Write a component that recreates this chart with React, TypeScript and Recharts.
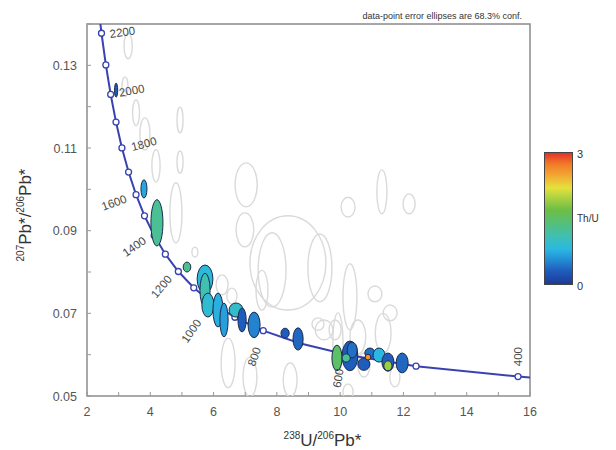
import React from 'react';
import { ComposedChart, Scatter, XAxis, YAxis, ReferenceArea } from 'recharts';

// concordia (Tera-Wasserburg), one point per 100 Ma
const AGE_MA = [350, 400, 500, 600, 700, 800, 900, 1000, 1100, 1200, 1300, 1400, 1500, 1600, 1700, 1800, 1900, 2000, 2100, 2200, 2300];
const U238_PB206 = [17.923, 15.621, 12.399, 10.252, 8.718, 7.569, 6.674, 5.959, 5.374, 4.887, 4.476, 4.123, 3.817, 3.55, 3.314, 3.104, 2.917, 2.749, 2.596, 2.458, 2.332];
const PB207_PB206 = [0.0535, 0.0547, 0.05722, 0.0599, 0.06276, 0.0658, 0.06905, 0.0725, 0.07618, 0.08012, 0.08432, 0.08881, 0.0936, 0.09871, 0.10418, 0.11002, 0.11627, 0.12295, 0.13011, 0.13776, 0.14602];
const LABELED_AGES = [400, 600, 800, 1000, 1200, 1400, 1600, 1800, 2000, 2200];

// accepted analyses (coloured by Th/U)
const GOOD_X = [2.92, 3.8, 4.21, 5.16, 5.73, 5.73, 5.82, 6.14, 6.33, 6.71, 6.9, 7.28, 8.26, 8.67, 10.31, 10.38, 9.9, 10.19, 10.75, 10.94, 11.23, 10.88, 11.51, 11.51, 11.96];
const GOOD_Y = [0.124, 0.1001, 0.0919, 0.0812, 0.0783, 0.0756, 0.072, 0.0708, 0.0684, 0.0708, 0.0684, 0.0672, 0.0652, 0.0638, 0.0597, 0.0611, 0.0592, 0.0592, 0.0577, 0.0604, 0.0599, 0.0594, 0.0582, 0.0573, 0.058];
const GOOD_SX = [0.05, 0.095, 0.19, 0.12, 0.25, 0.16, 0.19, 0.16, 0.13, 0.22, 0.13, 0.19, 0.13, 0.16, 0.25, 0.16, 0.16, 0.13, 0.19, 0.16, 0.19, 0.09, 0.19, 0.13, 0.19];
const GOOD_SY = [0.0017, 0.0022, 0.0056, 0.0012, 0.0034, 0.0041, 0.0029, 0.0041, 0.0041, 0.0017, 0.0029, 0.0031, 0.0012, 0.0027, 0.0036, 0.0019, 0.0031, 0.001, 0.0015, 0.0012, 0.0017, 0.0007, 0.0022, 0.0012, 0.0024];
const GOOD_THU = [0.3, 0.7, 1.25, 1.3, 0.85, 1.1, 0.9, 0.75, 0.65, 0.95, 0.3, 0.5, 0.3, 0.35, 0.3, 0.4, 1.5, 1.2, 0.3, 0.4, 0.8, 2.6, 0.3, 1.9, 0.35];

// rejected (discordant) analyses
const REJ_X = [3.3, 3.2, 3.55, 3.83, 4.18, 4.94, 4.94, 4.81, 5.41, 7.03, 6.99, 8.35, 7.85, 9.36, 10.25, 11.32, 12.18, 10.31, 11.1, 11.58, 11.36, 9.49, 9.93, 10.56, 10.75, 11.73, 6.46, 7.15, 8.42, 6.27, 6.58, 7.53, 9.84, 9.3, 10.25];
const REJ_Y = [0.1347, 0.1248, 0.1185, 0.1134, 0.1057, 0.1168, 0.1066, 0.0943, 0.0848, 0.1011, 0.0902, 0.0822, 0.0805, 0.081, 0.0957, 0.0994, 0.0965, 0.074, 0.0747, 0.0701, 0.0652, 0.066, 0.0628, 0.0643, 0.0575, 0.0546, 0.058, 0.0546, 0.0539, 0.0769, 0.0742, 0.0756, 0.066, 0.0674, 0.051];
const REJ_SX = [0.13, 0.095, 0.11, 0.16, 0.13, 0.095, 0.095, 0.19, 0.095, 0.35, 0.28, 1.2, 0.44, 0.38, 0.22, 0.16, 0.19, 0.22, 0.22, 0.22, 0.25, 0.28, 0.16, 0.25, 0.19, 0.16, 0.22, 0.22, 0.22, 0.19, 0.16, 0.19, 0.19, 0.19, 0.16];
const REJ_SY = [0.0031, 0.0024, 0.0031, 0.0039, 0.0039, 0.0031, 0.0027, 0.0073, 0.0012, 0.0053, 0.0041, 0.0114, 0.009, 0.0082, 0.0024, 0.0053, 0.0024, 0.008, 0.0019, 0.0019, 0.0048, 0.0024, 0.0073, 0.0041, 0.0029, 0.0024, 0.006, 0.0048, 0.0041, 0.0024, 0.0019, 0.0048, 0.0024, 0.0015, 0.0019];

const X_TICKS = [2, 3, 4, 5, 6, 7, 8, 9, 10, 11, 12, 13, 14, 15, 16];
const X_LABELS = [2, 4, 6, 8, 10, 12, 14, 16];
const Y_TICKS = [0.05, 0.06, 0.07, 0.08, 0.09, 0.1, 0.11, 0.12, 0.13, 0.14];
const Y_LABELS = [0.05, 0.07, 0.09, 0.11, 0.13];

const THU_STOPS = [0, 0.3, 0.6, 0.8, 1.1, 1.4, 1.7, 2.0, 2.2, 2.5, 2.75, 3];
const THU_COLORS = ['#1e3a96', '#1f5dbc', '#2596d8', '#2ab8e2', '#3fc0b0', '#55bf78', '#6ebe45', '#b2d442', '#e5e13c', '#f4a532', '#f07a28', '#e5302a'];

const W = 616;
const H = 450;
const MARGIN = { top: 24, right: 86, bottom: 10, left: 27 };
const Y_AXIS_W = 60;
const X_AXIS_H = 44;
const X_DOMAIN = [2, 16];
const Y_DOMAIN = [0.05, 0.14];
const PX_X = (W - MARGIN.left - MARGIN.right - Y_AXIS_W) / (X_DOMAIN[1] - X_DOMAIN[0]);
const PX_Y = (H - MARGIN.top - MARGIN.bottom - X_AXIS_H) / (Y_DOMAIN[1] - Y_DOMAIN[0]);

const LINE_BLUE = '#3a42b2';
const FONT = '"Liberation Sans", Arial, sans-serif';

const LABEL_OFFSET: Record<number, [number, number, number]> = {
  400: [0, -20, -90],
  600: [-10, 23, -80],
  800: [-9, 26, -70],
  1000: [-21, 28, -55],
  1200: [-17, 15, -50],
  1400: [-20, 11, -35],
  1600: [-22, 8, -20],
  1800: [22, -4, -15],
  2000: [21, -4, -10],
  2200: [21, -1, -8],
};

function hexToRgb(h: string) {
  return [1, 3, 5].map((i) => parseInt(h.slice(i, i + 2), 16));
}

function thuColor(v: number) {
  for (let i = 1; i < THU_STOPS.length; i++) {
    if (v <= THU_STOPS[i]) {
      const t = (v - THU_STOPS[i - 1]) / (THU_STOPS[i] - THU_STOPS[i - 1]);
      const a = hexToRgb(THU_COLORS[i - 1]);
      const b = hexToRgb(THU_COLORS[i]);
      const c = a.map((ca, k) => Math.round(ca + (b[k] - ca) * t));
      return `rgb(${c[0]},${c[1]},${c[2]})`;
    }
  }
  return THU_COLORS[THU_COLORS.length - 1];
}

const concordia = AGE_MA.map((age, i) => ({ age, x: U238_PB206[i], y: PB207_PB206[i] }));
const markers = concordia.filter((d) => d.age >= 400 && d.age <= 2200);
const ageLabels = concordia.filter((d) => LABELED_AGES.includes(d.age));
const good = GOOD_X.map((x, i) => ({ x, y: GOOD_Y[i], sx: GOOD_SX[i], sy: GOOD_SY[i], thu: GOOD_THU[i] }));
const rejected = REJ_X.map((x, i) => ({ x, y: REJ_Y[i], sx: REJ_SX[i], sy: REJ_SY[i] }));

const GoodEllipse = (props: any) => {
  const { cx, cy, payload } = props;
  return (
    <ellipse cx={cx} cy={cy} rx={payload.sx * PX_X} ry={payload.sy * PX_Y}
      fill={thuColor(payload.thu)} stroke="#1c2a4e" strokeWidth={1} />
  );
};

const RejEllipse = (props: any) => {
  const { cx, cy, payload } = props;
  return (
    <ellipse cx={cx} cy={cy} rx={payload.sx * PX_X} ry={payload.sy * PX_Y}
      fill="none" stroke="#dadada" strokeWidth={1.4} />
  );
};

const Marker = (props: any) => (
  <circle cx={props.cx} cy={props.cy} r={3} fill="#fff" stroke={LINE_BLUE} strokeWidth={1.3} />
);

const AgeLabel = (props: any) => {
  const { cx, cy, payload } = props;
  const [dx, dy, rot] = LABEL_OFFSET[payload.age];
  const x = cx + dx;
  const y = cy + dy;
  return (
    <text x={x} y={y} transform={`rotate(${rot} ${x} ${y})`} textAnchor="middle" dominantBaseline="central"
      fontFamily={FONT} fontSize={11.5} fill="#4a4a4a">
      {payload.age}
    </text>
  );
};

const XTick = (props: any) => {
  const { x, y, payload } = props;
  const v = payload.value;
  return (
    <g>
      <line x1={x} y1={y} x2={x} y2={y - 4} stroke="#999" strokeWidth={1} />
      {X_LABELS.includes(v) && (
        <text x={x} y={y + 20} textAnchor="middle" fontFamily={FONT} fontSize={12.5} fill="#555">{v}</text>
      )}
    </g>
  );
};

const YTick = (props: any) => {
  const { x, y, payload } = props;
  const v = payload.value;
  const labeled = Y_LABELS.some((l) => Math.abs(l - v) < 1e-6);
  return (
    <g>
      <line x1={x} y1={y} x2={x + 4} y2={y} stroke="#999" strokeWidth={1} />
      {labeled && (
        <text x={x - 10} y={y + 4.5} textAnchor="end" fontFamily={FONT} fontSize={12.5} fill="#555">{v.toFixed(2)}</text>
      )}
    </g>
  );
};

const XLabel = (props: any) => {
  const { viewBox } = props;
  const cx = viewBox.x + viewBox.width / 2 + 14;
  return (
    <text x={cx} y={446} textAnchor="middle" fontFamily={FONT} fontSize={17} fill="#333">
      <tspan fontSize={10} dy={-7}>238</tspan>
      <tspan dy={7}>U/</tspan>
      <tspan fontSize={10} dy={-7}>206</tspan>
      <tspan dy={7}>Pb*</tspan>
    </text>
  );
};

const YLabel = () => {
  const x = 31;
  const y = 215;
  return (
    <text x={x} y={y} transform={`rotate(-90 ${x} ${y})`} textAnchor="middle" fontFamily={FONT} fontSize={17} fill="#333">
      <tspan fontSize={10} dy={-7}>207</tspan>
      <tspan dy={7}>Pb*/</tspan>
      <tspan fontSize={10} dy={-7}>206</tspan>
      <tspan dy={7}>Pb*</tspan>
    </text>
  );
};

const gradient = `linear-gradient(to top, ${THU_STOPS.map((s, i) => `${THU_COLORS[i]} ${(s / 3) * 100}%`).join(', ')})`;

export default function App() {
  return (
    <div style={{ position: 'absolute', left: 0, top: 0, width: W, height: H, background: '#fff', fontFamily: FONT }}>
      <ComposedChart width={W} height={H} margin={MARGIN}>
        <XAxis type="number" dataKey="x" domain={X_DOMAIN} ticks={X_TICKS} allowDataOverflow
          axisLine={{ stroke: '#aaa', strokeWidth: 1.5 }} tickLine={false} tickSize={0} tickMargin={0} height={X_AXIS_H}
          tick={<XTick />} label={<XLabel />} interval={0} />
        <YAxis type="number" dataKey="y" domain={Y_DOMAIN} ticks={Y_TICKS} allowDataOverflow
          axisLine={{ stroke: '#aaa', strokeWidth: 1.5 }} tickLine={false} tickSize={0} tickMargin={0} width={Y_AXIS_W}
          tick={<YTick />} interval={0} />
        <ReferenceArea x1={2} x2={16} y1={0.05} y2={0.14} fill="none" stroke="#8a8a8a" strokeWidth={1.5} />
        <Scatter data={rejected} shape={<RejEllipse />} isAnimationActive={false} />
        <Scatter data={concordia} line={{ stroke: LINE_BLUE, strokeWidth: 2 }} lineType="joint"
          shape={() => <g />} isAnimationActive={false} />
        <Scatter data={markers} shape={<Marker />} isAnimationActive={false} />
        <Scatter data={good} shape={<GoodEllipse />} isAnimationActive={false} />
        <Scatter data={ageLabels} shape={<AgeLabel />} isAnimationActive={false} />
      </ComposedChart>
      <svg width={W} height={H} style={{ position: 'absolute', left: 0, top: 0, pointerEvents: 'none' }}>
        <YLabel />
        <text x={522} y={19} textAnchor="end" fontFamily={FONT} fontSize={9} fill="#333">
          data-point error ellipses are 68.3% conf.
        </text>
        <text x={577} y={158} fontFamily={FONT} fontSize={11} fill="#333">3</text>
        <text x={577} y={222} fontFamily={FONT} fontSize={10} fill="#333">Th/U</text>
        <text x={577} y={290} fontFamily={FONT} fontSize={11} fill="#333">0</text>
      </svg>
      <div style={{ position: 'absolute', left: 544, top: 152, width: 27, height: 131, border: '1px solid #444', background: gradient }} />
    </div>
  );
}
